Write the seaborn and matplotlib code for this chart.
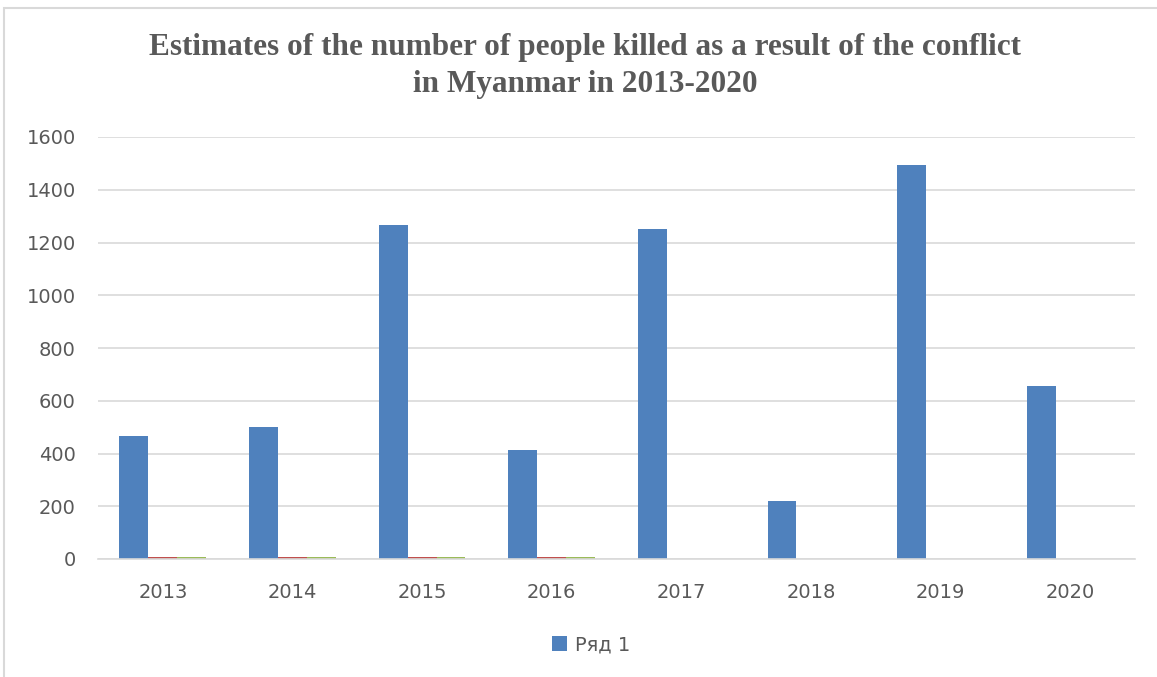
import matplotlib
matplotlib.use("Agg")
import matplotlib.pyplot as plt
import seaborn as sns
import pandas as pd
from matplotlib.patches import Rectangle

years = ["2013", "2014", "2015", "2016", "2017", "2018", "2019", "2020"]
series_names = ["Ряд 1", "Ряд 2", "Ряд 3"]
series1 = [465, 502, 1265, 412, 1250, 220, 1495, 655]
series2 = [8, 8, 8, 8, 0, 0, 0, 0]
series3 = [8, 8, 8, 8, 0, 0, 0, 0]
colors = ["#4F81BD", "#C0504D", "#9BBB59"]
yticks = [0, 200, 400, 600, 800, 1000, 1200, 1400, 1600]
title = "Estimates of the number of people killed as a result of the conflict\nin Myanmar in 2013-2020"

rows = []
for name, vals in zip(series_names, [series1, series2, series3]):
    for y, v in zip(years, vals):
        rows.append({"year": y, "series": name, "value": v})
df = pd.DataFrame(rows)

sns.set_style("white")
plt.rcParams["font.family"] = ["DejaVu Sans"]

fig = plt.figure(figsize=(11.57, 6.77), dpi=100)
fig.patch.set_facecolor("white")
# outer frame
fig.add_artist(Rectangle((4 / 1157, -0.05), 1.2, (677 - 8) / 677 + 0.05,
                         transform=fig.transFigure, fill=False,
                         edgecolor="#D9D9D9", linewidth=1.5))

ax = fig.add_axes([98 / 1157, (677 - 559) / 677, (1135 - 98) / 1157, (559 - 137) / 677])
sns.barplot(data=df, x="year", y="value", hue="series", order=years,
            hue_order=series_names, palette=colors, width=0.67,
            saturation=1, ax=ax, errorbar=None, edgecolor="none")

ax.set_ylim(0, 1600)
ax.set_yticks(yticks)
ax.set_xlim(-0.5, len(years) - 0.5)
ax.yaxis.grid(True, color="#D9D9D9", linewidth=1.2)
ax.set_axisbelow(True)
for s in ["top", "right", "left"]:
    ax.spines[s].set_visible(False)
ax.spines["bottom"].set_color("#D9D9D9")
ax.spines["bottom"].set_linewidth(1.2)
ax.tick_params(axis="both", length=0, labelsize=14, labelcolor="#595959")
ax.tick_params(axis="x", pad=17)
ax.tick_params(axis="y", pad=16)
ax.set_xlabel("")
ax.set_ylabel("")

handles, labels = ax.get_legend_handles_labels()
ax.legend([handles[0]], [labels[0]], loc="center", bbox_to_anchor=(591 / 1157, 1 - 645 / 677),
          bbox_transform=fig.transFigure, frameon=False, fontsize=14,
          handlelength=0.8, handleheight=0.8, handletextpad=0.4,
          labelcolor="#595959")

fig.text(585 / 1157, 1 - 66 / 677, title, ha="center", va="center",
         fontsize=22.5, fontweight="bold", family=["Liberation Serif", "DejaVu Serif"],
         color="#595959", linespacing=1.4)

fig.savefig("out.png", dpi=100, facecolor="white")
